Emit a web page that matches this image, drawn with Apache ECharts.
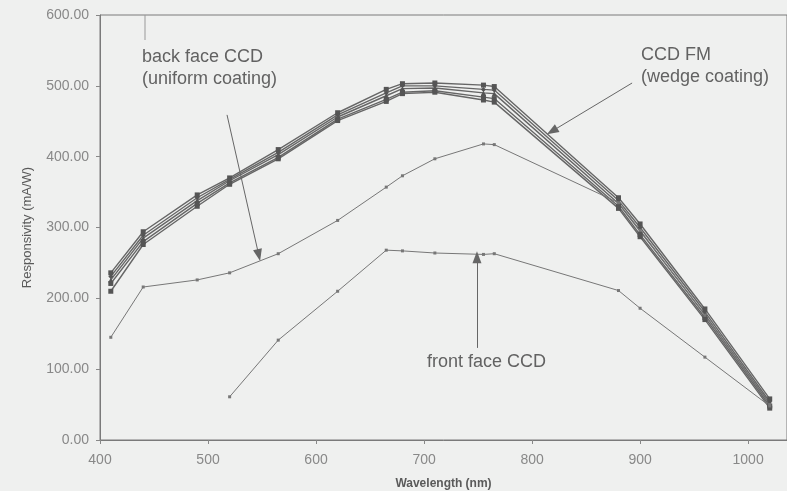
<!DOCTYPE html>
<html>
<head>
<meta charset="utf-8">
<script src="https://cdn.jsdelivr.net/npm/echarts@6/dist/echarts.min.js"></script>
<style>
    html, body { margin: 0; padding: 0; background: #eff0ef; }
    #chart { width: 787px; height: 491px; }
</style>
</head>
<body>
<div id="chart"></div>
<script>
// wavelengths (nm)
const wavelengths = [410, 440, 490, 520, 565, 620, 665, 680, 710, 755, 765, 880, 900, 960, 1020];

// CCD FM (wedge coating), several units
const fm1 = [236, 294, 346, 370, 410, 462, 495, 503, 504, 501, 499, 342, 305, 185, 58];
const fm2 = [231, 289, 342, 368, 406, 459, 490, 500, 500, 495, 494, 338, 300, 181, 54];
const fm3 = [226, 285, 338, 366, 403, 456, 486, 496, 497, 490, 489, 334, 295, 177, 51];
const fm4 = [221, 280, 334, 363, 399, 453, 481, 491, 493, 484, 482, 330, 290, 173, 48];
const fm5 = [210, 276, 330, 361, 397, 451, 478, 489, 491, 480, 477, 327, 287, 170, 45];

// back face CCD (uniform coating)
const backFace = [145, 216, 226, 236, 263, 310, 357, 373, 397, 418, 417, 335, 296, 176, 50];

// front face CCD
const frontWl = [520, 565, 620, 665, 680, 710, 755, 765, 880, 900, 960, 1020];
const frontFace = [61, 141, 210, 268, 267, 264, 262, 263, 211, 186, 117, 48];

const yTicks = [0, 100, 200, 300, 400, 500, 600];

function pairs(xs, ys) {
    return xs.map((x, i) => [x, ys[i]]);
}

const chart = echarts.init(document.getElementById("chart"));
const txt = { fontFamily: "Liberation Sans", fill: "#626262", fontSize: 18, lineHeight: 22 };

function fmSeries(data, symbol) {
    return {
        type: "line",
        data: pairs(wavelengths, data),
        symbol: symbol,
        symbolSize: 5,
        lineStyle: { color: "#666", width: 1.4 },
        itemStyle: { color: "#555" },
        animation: false,
    };
}

const option = {
    backgroundColor: "#eff0ef",
    grid: {
        left: 100, right: 0, top: 15, bottom: 51,
        outerBoundsMode: "none",
        containLabel: false,
        show: true, borderColor: "#7a7a7a", borderWidth: 1,
    },
    xAxis: {
        type: "value",
        min: 400, max: 1036, interval: 100,
        name: "Wavelength (nm)",
        nameLocation: "middle",
        nameGap: 38,
        nameTextStyle: { fontFamily: "Liberation Sans", fontSize: 12, fontWeight: "bold", color: "#5a5a5a" },
        axisLine: { lineStyle: { color: "#7a7a7a" } },
        axisTick: { show: true, length: 4, inside: false, lineStyle: { color: "#888" } },
        axisLabel: {
            fontFamily: "Liberation Sans", fontSize: 14, color: "#888", margin: 13, showMaxLabel: false,
            formatter: (v) => String(v),
        },
        splitLine: { show: false },
    },
    yAxis: {
        type: "value",
        min: yTicks[0], max: yTicks[yTicks.length - 1], interval: 100,
        name: "Responsivity (mA/W)",
        nameLocation: "middle",
        nameGap: 66,
        nameTextStyle: { fontFamily: "Liberation Sans", fontSize: 13, color: "#5a5a5a" },
        axisLine: { show: true, lineStyle: { color: "#7a7a7a" } },
        axisTick: { show: true, length: 4, lineStyle: { color: "#888" } },
        axisLabel: {
            fontFamily: "Liberation Sans", fontSize: 14, color: "#888", margin: 11,
            formatter: (v) => v.toFixed(2),
        },
        splitLine: { show: false },
    },
    series: [
        fmSeries(fm1, "rect"),
        fmSeries(fm2, "diamond"),
        fmSeries(fm3, "triangle"),
        fmSeries(fm4, "rect"),
        fmSeries(fm5, "rect"),
        {
            type: "line",
            data: pairs(wavelengths, backFace),
            symbol: "rect",
            symbolSize: 3,
            lineStyle: { color: "#777", width: 1 },
            itemStyle: { color: "#777" },
            animation: false,
            markLine: {
                silent: true,
                symbol: ["none", "triangle"],
                symbolSize: [9, 12],
                label: { show: false },
                lineStyle: { color: "#666", width: 1, type: "solid" },
                animation: false,
                data: [
                    [{ coord: [517.6, 459] }, { coord: [547, 261] }],
                    [{ coord: [892.6, 504] }, { coord: [818.5, 436] }],
                    [{ coord: [749, 130] }, { coord: [749, 258] }],
                ],
            },
        },
        {
            type: "line",
            data: pairs(frontWl, frontFace),
            symbol: "rect",
            symbolSize: 3,
            lineStyle: { color: "#777", width: 1 },
            itemStyle: { color: "#777" },
            animation: false,
        },
    ],
    graphic: [
        { type: "text", left: 142, top: 46, style: Object.assign({ text: "back face CCD\n(uniform coating)" }, txt) },
        { type: "text", left: 641, top: 44, style: Object.assign({ text: "CCD FM\n(wedge coating)" }, txt) },
        { type: "text", left: 427, top: 351, style: Object.assign({ text: "front face CCD" }, txt) },
        { type: "line", shape: { x1: 145, y1: 15, x2: 145, y2: 40 }, style: { stroke: "#999", lineWidth: 1 } },
    ],
};

option && chart.setOption(option);
window.addEventListener("resize", function () {
    chart.resize();
});
</script>
</body>
</html>
